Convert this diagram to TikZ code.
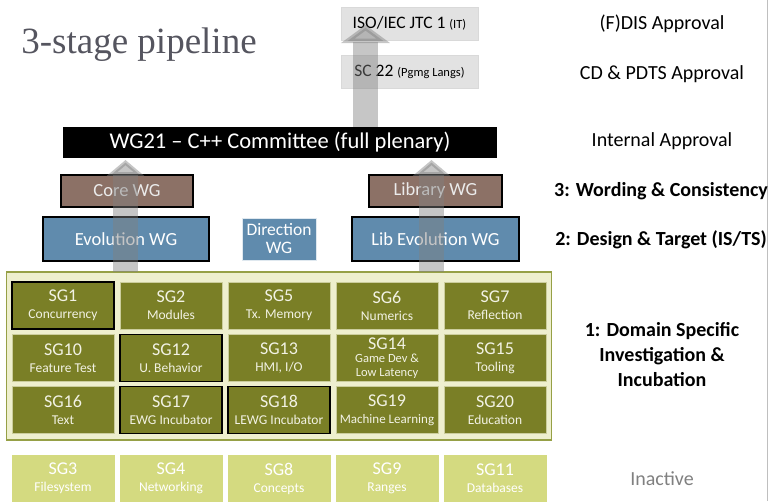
\documentclass[tikz,border=0pt]{standalone}
\usepackage{fontspec}
\setmainfont{Carlito}
\newfontfamily\titlefont{Liberation Serif}
\usetikzlibrary{arrows.meta}

\definecolor{sgolive}{RGB}{122,127,38}
\definecolor{sgpale}{RGB}{212,218,128}
\definecolor{sgframe}{RGB}{238,239,206}
\definecolor{sgedge}{RGB}{150,160,70}
\definecolor{sgtext}{RGB}{242,242,228}
\definecolor{wgbrown}{RGB}{140,113,102}
\definecolor{wgblue}{RGB}{96,139,173}
\definecolor{isogray}{RGB}{226,226,226}
\definecolor{arrowgray}{RGB}{128,128,128}
\definecolor{titlegray}{RGB}{85,85,95}

\tikzset{
  sgbox/.style={fill=sgolive, draw=sgframe!70!sgolive, line width=0.6pt, text=sgtext,
    minimum width=102pt, minimum height=47pt, inner sep=0pt, align=center,
    font=\fontsize{18}{17}\selectfont},
  oldbox/.style={sgbox, fill=sgpale, draw=sgpale, text=white},
  bold/.style={draw=black, line width=1.8pt},
  wgbox/.style={inner sep=0pt, align=center, text=white, font=\fontsize{18.5}{18}\selectfont},
  isobox/.style={fill=isogray, draw=black!15, minimum width=137pt, minimum height=33pt, inner sep=0pt},
  stage/.style={align=center, font=\fontsize{20}{25}\selectfont},
  bigarrow/.style={draw=arrowgray, opacity=0.45, line width=25pt, -{Triangle[width=37pt,length=16pt]}}
}
\newcommand{\sgsub}[1]{{\fontsize{13.5}{13}\selectfont #1}}

\begin{document}
\begin{tikzpicture}[x=1pt, y=-1pt]
	\useasboundingbox (0,0) rectangle (771,501);
	\draw[black!25, line width=0.8pt] (767.5,0) -- (767.5,501); % bordo

	% titolo
	\node[text=titlegray, font=\titlefont\fontsize{37}{37}\selectfont] (title) at (139,45) {3-stage pipeline};

	% gruppi di studio
	\node[fill=sgframe, draw=sgedge, line width=1.2pt, minimum width=545pt, minimum height=168pt] (sgs) at (279,356) {};
	\node[sgbox, bold] (sg1) at (63,305.5) {SG1\\\sgsub{Concurrency}};
	\node[sgbox] (sg2) at (171,305.5) {SG2\\\sgsub{Modules}};
	\node[sgbox] (sg5) at (279,305.5) {SG5\\\sgsub{Tx. Memory}};
	\node[sgbox] (sg6) at (387,305.5) {SG6\\\sgsub{Numerics}};
	\node[sgbox] (sg7) at (495,305.5) {SG7\\\sgsub{Reflection}};
	\node[sgbox] (sg10) at (63,358) {SG10\\\sgsub{Feature Test}};
	\node[sgbox, bold] (sg12) at (171,358) {SG12\\\sgsub{U. Behavior}};
	\node[sgbox] (sg13) at (279,358) {SG13\\\sgsub{HMI, I/O}};
	\node[sgbox, font=\fontsize{18}{13.5}\selectfont] (sg14) at (387,358) {SG14\\{\fontsize{12.5}{13}\selectfont Game Dev \&}\\{\fontsize{12.5}{13}\selectfont Low Latency}};
	\node[sgbox] (sg15) at (495,358) {SG15\\\sgsub{Tooling}};
	\node[sgbox] (sg16) at (63,410) {SG16\\\sgsub{Text}};
	\node[sgbox, bold] (sg17) at (171,410) {SG17\\\sgsub{EWG Incubator}};
	\node[sgbox, bold] (sg18) at (279,410) {SG18\\\sgsub{LEWG Incubator}};
	\node[sgbox] (sg19) at (387,410) {SG19\\{\fontsize{13}{13}\selectfont Machine Learning}};
	\node[sgbox] (sg20) at (495,410) {SG20\\\sgsub{Education}};

	% inattivi
	\node[oldbox] (sg3) at (63,478.5) {SG3\\\sgsub{Filesystem}};
	\node[oldbox] (sg4) at (171,478.5) {SG4\\\sgsub{Networking}};
	\node[oldbox] (sg8) at (279,478.5) {SG8\\\sgsub{Concepts}};
	\node[oldbox] (sg9) at (387,478.5) {SG9\\\sgsub{Ranges}};
	\node[oldbox] (sg11) at (495,478.5) {SG11\\\sgsub{Databases}};

	% gruppi di lavoro
	\node[wgbox, fill=wgblue, bold, minimum width=166pt, minimum height=44pt] (ewg) at (126,239) {Evolution WG};
	\node[wgbox, fill=wgblue, draw=white!80!wgblue, minimum width=74pt, minimum height=42pt, font=\fontsize{17.5}{18}\selectfont] (dwg) at (279,239) {Direction\\WG};
	\node[wgbox, fill=wgblue, bold, minimum width=167pt, minimum height=44pt] (lewg) at (435.5,239) {Lib Evolution WG};
	\node[wgbox, fill=wgbrown, bold, text=black!8, minimum width=132pt, minimum height=32pt] (cwg) at (127,191) {Core WG};
	\node[wgbox, fill=wgbrown, bold, text=black!8, minimum width=133pt, minimum height=32pt] (lwg) at (435.5,191) {Library WG};
	\node[fill=black, text=white, minimum width=434pt, minimum height=31pt, inner sep=0pt, font=\fontsize{22.5}{22}\selectfont] (wg21) at (280,142.5) {WG21 -- C++ Committee (full plenary)};

	% ISO
	\node[isobox] (jtc1) at (409.5,23.5) {\fontsize{17.5}{17}\selectfont ISO/IEC JTC 1 {\fontsize{12.5}{12}\selectfont (IT)}};
	\node[isobox] (sc22) at (409.5,72) {\fontsize{17.5}{17}\selectfont SC 22 {\fontsize{12.5}{12}\selectfont (Pgmg Langs)}};

	% frecce
	\coordinate (la0) at (125.5,272);
	\coordinate (la1) at (125.5,160);
	\coordinate (ra0) at (431.5,272);
	\coordinate (ra1) at (431.5,160);
	\coordinate (ta0) at (365.5,127);
	\coordinate (ta1) at (365.5,25);
	\draw[bigarrow] (la0) -- (la1);
	\draw[bigarrow] (ra0) -- (ra1);
	\draw[bigarrow, -{Triangle[width=48pt,length=18pt]}] (ta0) -- (ta1);

	% fasi
	\node[stage] (fdis) at (662,24) {(F)DIS Approval};
	\node[stage] (cd) at (662,74) {CD \& PDTS Approval};
	\node[stage] (internal) at (662,141) {Internal Approval};
	\node[stage, font=\bfseries\fontsize{20}{25}\selectfont] (s3) at (661,191) {3: Wording \& Consistency};
	\node[stage, font=\bfseries\fontsize{20}{25}\selectfont] (s2) at (661,240) {2: Design \& Target (IS/TS)};
	\node[stage, font=\bfseries\fontsize{20}{25}\selectfont] (s1) at (662,355) {1: Domain Specific\\Investigation \&\\Incubation};
	\node[stage, text=black!50] (inactive) at (662,479) {Inactive};
\end{tikzpicture}
\end{document}
